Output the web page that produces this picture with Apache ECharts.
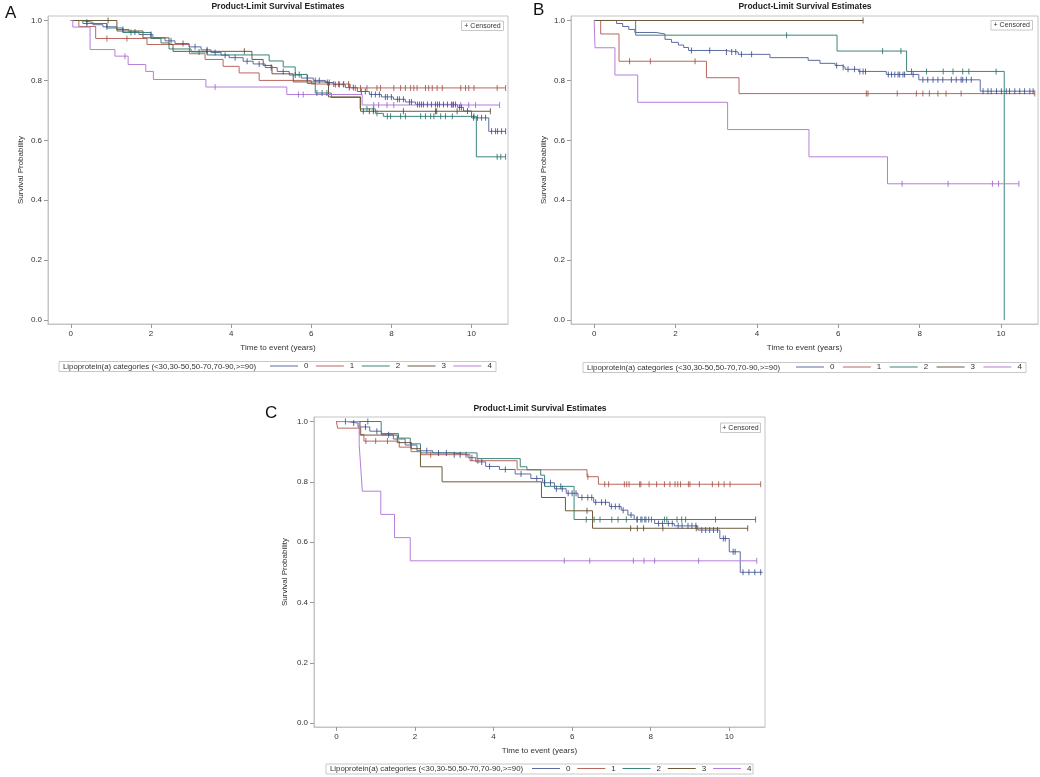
<!DOCTYPE html>
<html>
<head>
<meta charset="utf-8">
<script src="https://cdn.jsdelivr.net/npm/echarts@6/dist/echarts.min.js"></script>
<style>
html, body { margin: 0; padding: 0; background: #fff; }
#chart { width: 1040px; height: 777px; }
</style>
</head>
<body>
<div id="chart"></div>
<script>
var groups = ['0', '1', '2', '3', '4'];
var xTicks = [0, 2, 4, 6, 8, 10];
var yTicks = [0, 0.2, 0.4, 0.6, 0.8, 1.0];
var legendTitle = 'Lipoprotein(a) categories (<30,30-50,50-70,70-90,>=90)';

// panel A : [time, survival] after each event, last point = end of follow-up
var stepsA0 = [[0,1],[0.25,0.994],[0.55,0.986],[0.8,0.979],[1.15,0.97],[1.45,0.962],[1.7,0.953],[2.05,0.942],[2.35,0.932],[2.6,0.923],[2.95,0.912],[3.25,0.902],[3.5,0.893],[3.75,0.884],[3.95,0.876],[4.3,0.864],[4.55,0.855],[4.85,0.843],[5.15,0.83],[5.45,0.818],[5.75,0.808],[6.05,0.8],[6.35,0.793],[6.55,0.786],[6.85,0.776],[7.15,0.763],[7.45,0.753],[7.75,0.745],[8.05,0.737],[8.35,0.728],[8.6,0.72],[9.65,0.71],[9.8,0.698],[10.0,0.675],[10.43,0.63],[10.85,0.63]];
var censA0 = [0.4,0.9,1.3,1.6,2.0,2.5,2.8,3.1,3.4,3.6,3.85,4.1,4.4,4.7,5.0,5.3,5.6,5.9,6.1,6.2,6.4,6.45,6.6,6.7,6.8,6.95,7.05,7.25,7.35,7.5,7.6,7.7,7.85,7.9,8.0,8.15,8.2,8.3,8.45,8.5,8.65,8.7,8.75,8.8,8.9,9.0,9.1,9.15,9.2,9.3,9.4,9.5,9.55,9.6,9.7,9.75,9.9,10.05,10.15,10.25,10.35,10.5,10.6,10.65,10.75,10.85];
var stepsA1 = [[0,1],[0.2,0.98],[0.62,0.94],[1.9,0.92],[2.96,0.889],[3.35,0.87],[3.8,0.847],[4.2,0.825],[4.7,0.8],[6.0,0.788],[6.97,0.775],[10.85,0.775]];
var censA1 = [0.9,1.4,6.56,6.68,6.81,6.93,7.1,7.23,7.39,7.64,7.73,8.06,8.23,8.35,8.48,8.56,8.64,8.85,8.93,9.02,9.14,9.27,9.73,9.85,9.93,10.06,10.64,10.85];
var stepsA2 = [[0,1],[0.3,0.99],[0.9,0.975],[1.3,0.96],[2.0,0.94],[2.25,0.925],[2.45,0.905],[3.0,0.895],[3.4,0.885],[4.95,0.865],[5.3,0.845],[5.6,0.82],[5.9,0.79],[6.1,0.758],[6.5,0.743],[7.22,0.705],[7.6,0.69],[7.8,0.68],[10.12,0.545],[10.85,0.545]];
var censA2 = [0.4,1.5,3.2,5.7,6.14,6.27,6.39,7.39,7.55,7.64,7.9,7.98,8.23,8.35,8.73,8.85,8.98,9.06,9.23,9.35,9.52,10.06,10.64,10.73,10.85];
var stepsA3 = [[0,1],[1.15,0.965],[1.8,0.942],[2.45,0.92],[2.55,0.897],[4.52,0.87],[4.8,0.85],[5.02,0.822],[5.55,0.795],[6.43,0.745],[7.23,0.697],[10.47,0.697]];
var censA3 = [0.93,3.4,4.33,7.3,7.45,7.55,8.3,9.1,9.13,9.64,10.47];
var stepsA4 = [[0,1],[0.05,0.978],[0.48,0.903],[1.1,0.881],[1.43,0.853],[1.87,0.83],[2.06,0.803],[3.37,0.778],[5.39,0.753],[7.27,0.718],[10.7,0.718]];
var censA4 = [1.35,3.6,5.68,5.8,7.56,7.68,7.89,8.06,9.52,9.73,9.93,10.1,10.7];

// panel B
var stepsB0 = [[0,1],[0.55,0.99],[0.7,0.98],[0.85,0.97],[1.0,0.96],[1.52,0.955],[1.74,0.937],[1.9,0.927],[2.07,0.918],[2.2,0.91],[2.32,0.9],[3.21,0.895],[3.54,0.887],[4.32,0.876],[5.26,0.867],[5.55,0.857],[5.92,0.85],[6.09,0.844],[6.17,0.837],[6.5,0.83],[7.18,0.82],[7.98,0.802],[9.49,0.764],[10.83,0.764]];
var censB0 = [2.39,2.84,3.25,3.38,3.48,3.62,3.87,5.96,6.12,6.24,6.4,6.53,6.61,6.67,7.23,7.31,7.39,7.47,7.51,7.59,7.63,7.84,8.08,8.2,8.33,8.45,8.57,8.78,8.9,9.02,9.06,9.15,9.27,9.56,9.68,9.76,9.89,10.01,10.13,10.21,10.34,10.46,10.58,10.71,10.79];
var stepsB1 = [[0,1],[0.16,0.955],[0.61,0.864],[2.76,0.809],[3.56,0.756],[10.83,0.756]];
var censB1 = [0.87,1.38,2.48,6.69,6.73,7.45,7.92,8.08,8.24,8.45,8.65,9.02,10.83];
var stepsB2 = [[0,1],[1.02,0.951],[5.97,0.898],[7.68,0.83],[10.08,0]];
var censB2 = [4.73,7.09,7.54,7.8,8.17,8.58,8.82,9.06,9.21,9.88];
var stepsB3 = [[0,1],[6.61,1]];
var censB3 = [6.61];
var stepsB4 = [[0,1],[0.02,0.909],[0.51,0.818],[1.07,0.727],[3.28,0.636],[5.28,0.545],[7.21,0.455],[10.44,0.455]];
var censB4 = [7.57,8.7,9.79,9.94,10.44];

// panel C
var stepsC0 = [[0,1],[0.25,0.995],[0.55,0.982],[0.85,0.968],[1.15,0.956],[1.45,0.942],[1.75,0.922],[2.05,0.903],[2.45,0.896],[2.95,0.89],[3.35,0.88],[3.55,0.866],[3.8,0.851],[4.15,0.841],[4.55,0.826],[4.95,0.811],[5.25,0.797],[5.55,0.777],[5.85,0.762],[6.15,0.748],[6.55,0.732],[6.95,0.718],[7.25,0.706],[7.42,0.69],[7.58,0.675],[8.1,0.662],[8.6,0.654],[9.2,0.64],[9.76,0.612],[10.0,0.568],[10.28,0.5],[10.85,0.5]];
var censC0 = [0.23,0.44,0.74,1.03,1.33,1.9,2.3,2.6,2.8,3.0,3.15,3.3,3.45,3.7,3.9,4.3,4.7,5.1,5.3,5.45,5.6,5.75,5.9,6.0,6.1,6.25,6.4,6.5,6.6,6.75,6.85,7.0,7.1,7.2,7.3,7.5,7.65,7.75,7.85,7.95,8.2,8.3,8.45,8.55,8.7,8.8,8.95,9.05,9.15,9.3,9.4,9.5,9.6,9.7,9.85,9.9,10.1,10.15,10.35,10.5,10.65,10.8];
var stepsC1 = [[0,1],[0.03,0.978],[0.62,0.957],[0.7,0.935],[1.6,0.915],[1.9,0.9],[2.15,0.89],[3.4,0.87],[4.6,0.84],[6.38,0.817],[6.67,0.792],[10.8,0.792]];
var censC1 = [0.75,1.0,1.3,2.4,3.6,6.4,6.83,6.93,7.33,7.39,7.45,7.72,7.75,7.96,8.15,8.35,8.49,8.62,8.69,8.76,8.96,9.0,9.24,9.57,9.73,9.87,10.02,10.8];
var stepsC2 = [[0,1],[1.14,0.96],[1.58,0.945],[1.88,0.926],[2.14,0.896],[3.58,0.877],[4.68,0.85],[4.85,0.84],[5.2,0.822],[5.3,0.785],[6.05,0.675],[10.67,0.675]];
var censC2 = [0.8,5.71,6.36,6.56,6.71,7.01,7.17,7.38,7.66,7.78,7.88,8.02,8.35,8.41,8.67,8.79,8.89,9.65,10.67];
var stepsC3 = [[0,1],[0.6,0.955],[1.55,0.93],[1.9,0.91],[2.14,0.85],[2.69,0.8],[5.22,0.748],[5.83,0.704],[6.52,0.646],[10.47,0.646]];
var censC3 = [6.38,7.49,7.66,7.82,8.31,9.16,10.47];
var stepsC4 = [[0,1],[0.58,0.923],[0.62,0.846],[0.66,0.769],[1.13,0.692],[1.48,0.615],[1.88,0.538],[10.7,0.538]];
var censC4 = [5.8,6.45,7.56,7.83,8.1,9.22,10.7];

var lineColors = ['#5c6ca3', '#b8675e', '#3b857b', '#6e5a3c', '#b47fd9'];
var markColors = ['#34448a', '#a2483e', '#1e6c62', '#54401f', '#9d5ccc'];
var font = 'Liberation Sans, Arial, sans-serif';

var panels = [
    { steps: [stepsA0, stepsA1, stepsA2, stepsA3, stepsA4], cens: [censA0, censA1, censA2, censA3, censA4] },
    { steps: [stepsB0, stepsB1, stepsB2, stepsB3, stepsB4], cens: [censB0, censB1, censB2, censB3, censB4] },
    { steps: [stepsC0, stepsC1, stepsC2, stepsC3, stepsC4], cens: [censC0, censC1, censC2, censC3, censC4] }
];

// survival level of a step curve at time t
function survAt(steps, t) {
    var s = steps[0][1];
    for (var i = 0; i < steps.length; i++) {
        if (steps[i][0] <= t) s = steps[i][1];
    }
    return s;
}

var series = [];
panels.forEach(function(p, pi) {
    groups.forEach(function(g, gi) {
        series.push({
            name: g, type: 'line', step: 'end', xAxisIndex: pi, yAxisIndex: pi,
            symbol: 'none', data: p.steps[gi], color: lineColors[gi],
            lineStyle: { width: 1, color: lineColors[gi] }, z: 2 + gi
        });
        series.push({
            name: g + ' censored', type: 'scatter', xAxisIndex: pi, yAxisIndex: pi,
            symbol: 'rect', symbolSize: [1, 6],
            itemStyle: { color: markColors[gi] },
            data: p.cens[gi].map(function(t) { return [t, survAt(p.steps[gi], t)]; }),
            z: 8 + gi
        });
    });
});

var grids = [
    { left: 48, top: 16, width: 460, height: 308 },
    { left: 571, top: 16, width: 467, height: 308 },
    { left: 314, top: 417, width: 451, height: 310 }
];
grids.forEach(function(g) {
    g.show = true; g.borderColor = '#c4c4c4'; g.borderWidth = 1; g.backgroundColor = '#fff';
});

var xAxes = [0, 1, 2].map(function(i) {
    return {
        type: 'value', gridIndex: i, min: -0.57, max: 10.91,
        name: 'Time to event (years)', nameLocation: 'middle', nameGap: 20,
        nameTextStyle: { fontSize: 8, color: '#333', fontFamily: font },
        axisLine: { show: true, onZero: false, lineStyle: { color: '#c4c4c4' } },
        axisTick: { show: true, length: 4, customValues: xTicks, lineStyle: { color: '#999' } },
        axisLabel: { customValues: xTicks, fontSize: 8, color: '#333', margin: 6, fontFamily: font },
        splitLine: { show: false }
    };
});
var yAxes = [0, 1, 2].map(function(i) {
    return {
        type: 'value', gridIndex: i, min: -0.013, max: 1.015,
        name: 'Survival Probability', nameLocation: 'middle', nameGap: i === 2 ? 25 : 23,
        nameTextStyle: { fontSize: 8, color: '#333', fontFamily: font },
        axisLine: { show: true, onZero: false, lineStyle: { color: '#c4c4c4' } },
        axisTick: { show: true, length: 4, customValues: yTicks, lineStyle: { color: '#999' } },
        axisLabel: {
            customValues: yTicks, fontSize: 8, color: '#333', margin: 6, fontFamily: font,
            formatter: function(v) { return v.toFixed(1); }
        },
        splitLine: { show: false }
    };
});

var titleStyle = { fontSize: 8.5, fontWeight: 'bold', color: '#222', fontFamily: font };
var letterStyle = { fontSize: 17, fontWeight: 'normal', color: '#111', fontFamily: font };
var titles = [
    { text: 'Product-Limit Survival Estimates', left: 278, top: 2, textAlign: 'center', padding: 0, textStyle: titleStyle },
    { text: 'Product-Limit Survival Estimates', left: 805, top: 2, textAlign: 'center', padding: 0, textStyle: titleStyle },
    { text: 'Product-Limit Survival Estimates', left: 540, top: 404, textAlign: 'center', padding: 0, textStyle: titleStyle },
    { text: 'A', left: 5, top: 5, padding: 0, textStyle: letterStyle },
    { text: 'B', left: 533, top: 2, padding: 0, textStyle: letterStyle },
    { text: 'C', left: 265, top: 405, padding: 0, textStyle: letterStyle }
];

// legend boxes: [box x, box y, box width, first item x, item gap]
var legendBoxes = [[59, 361.5, 437, 270, 7.4], [583, 362.5, 443, 796, 8.4], [326, 764, 427, 532, 6.8]];
var legends = legendBoxes.map(function(b) {
    return {
        data: groups, left: b[3], top: b[1] + 0.5, orient: 'horizontal', padding: 0,
        icon: 'rect', itemWidth: 28, itemHeight: 1, itemGap: b[4], selectedMode: false,
        textStyle: { fontSize: 8, color: '#333', fontFamily: font, padding: [0, 0, 0, 1] }
    };
});

// "+ Censored" boxes: [x, y, w, h]
var censBoxes = [[461.5, 21, 42, 9.5], [991, 20.5, 41.5, 9.5], [720.5, 423, 40, 9.5]];

var graphics = [];
legendBoxes.forEach(function(b) {
    graphics.push({ type: 'rect', shape: { x: b[0], y: b[1], width: b[2], height: 10 },
        style: { fill: '#fff', stroke: '#c8c8c8', lineWidth: 1 }, z: -1 });
    graphics.push({ type: 'text', x: b[0] + 4, y: b[1] + 5,
        style: { text: legendTitle, font: '7.8px ' + font, fill: '#333', textVerticalAlign: 'middle' } });
});
censBoxes.forEach(function(c) {
    graphics.push({ type: 'rect', shape: { x: c[0], y: c[1], width: c[2], height: c[3] },
        style: { fill: '#fff', stroke: '#c8c8c8', lineWidth: 1 }, z: 20 });
    graphics.push({ type: 'text', x: c[0] + c[2] / 2, y: c[1] + c[3] / 2, z: 21,
        style: { text: '+ Censored', font: '7px ' + font, fill: '#333', textAlign: 'center', textVerticalAlign: 'middle' } });
});

var chart = echarts.init(document.getElementById('chart'));
chart.setOption({
    animation: false,
    backgroundColor: '#fff',
    textStyle: { fontFamily: font },
    title: titles,
    legend: legends,
    grid: grids,
    xAxis: xAxes,
    yAxis: yAxes,
    graphic: graphics,
    series: series
});
</script>
</body>
</html>
